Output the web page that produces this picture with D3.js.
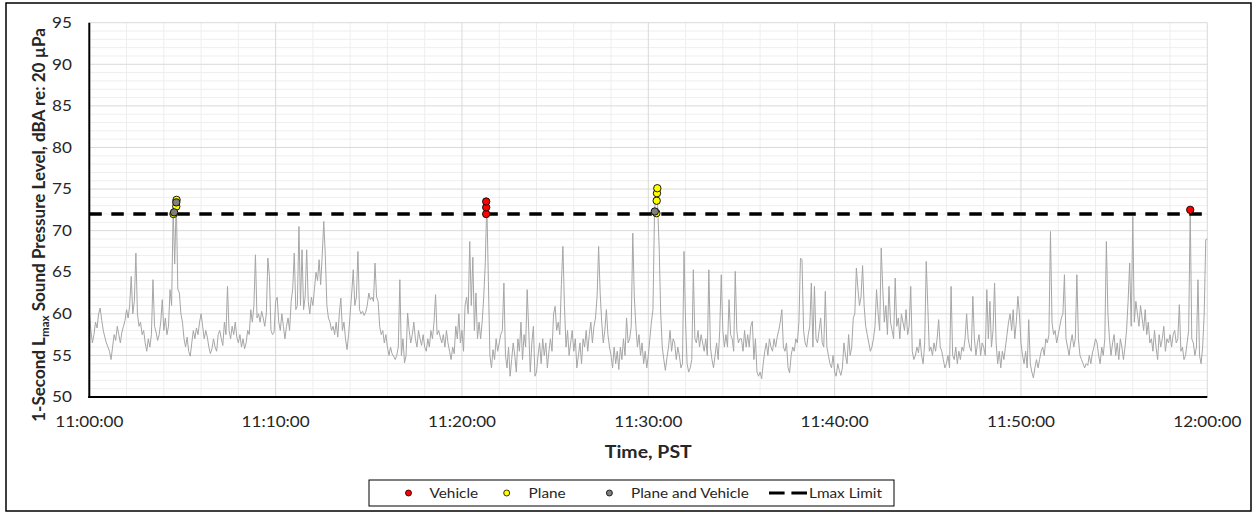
<!DOCTYPE html>
<html><head><meta charset="utf-8">
<script src="https://cdn.jsdelivr.net/npm/d3@7"></script>
<style>
body{margin:0;background:#fff}
svg{display:block}
text{font-family:Lato,"Carlito","Liberation Sans",sans-serif;fill:#262626}
</style>
</head><body>
<svg id="chart" width="1257" height="514"></svg>
<script>
const sampleStep = 5;
const lmax_1100 = [
60.3,58.0,56.5,57.5,59.0,58.3,60.0,60.7,59.2,58.0,57.2,56.5,
56.0,55.5,54.5,56.0,57.5,56.8,58.5,57.5,56.5,57.8,58.5,59.2,
60.5,59.5,61.0,64.5,60.0,61.5,67.3,60.0,58.5,59.0,57.5,58.0,
56.5,55.5,57.0,56.0,57.5,64.1,58.5,57.8,56.8,57.5,59.0,61.7,
58.0,59.5,57.5,58.5,62.9,61.0,72.5,66.0,73.7,63.0,62.5,60.0,
59.0,57.0,56.0,57.2,55.5,54.9,56.5,58.0,57.0,58.3,57.5,59.0,
60.0,58.5,57.0,58.0,57.2,56.0,55.2,55.8,57.0,56.0,55.5,57.5,
58.0,57.0,56.2,59.0,57.5,63.3,58.0,57.0,58.5,57.5,59.0,57.2,
56.5,57.5,56.0,57.0,55.8,56.5,58.0,57.5,60.5,59.0,61.0,67.1,
59.5,60.0,59.0,60.3,59.5,58.5,60.0,66.7,64.5,58.0,57.5,57.8];
const lmax_1110 = [
61.5,62.0,59.0,58.0,60.0,58.5,57.0,58.5,59.5,58.0,61.5,63.0,
67.3,60.5,61.0,70.5,61.0,67.7,60.5,62.0,67.7,61.5,60.0,62.0,
61.0,63.0,65.0,64.0,66.5,63.5,67.0,71.1,67.0,61.0,59.5,59.0,
58.0,58.5,57.5,59.0,57.2,60.0,61.9,58.0,59.0,57.0,55.7,57.5,
60.0,62.5,65.3,61.0,62.0,67.5,60.5,60.0,60.3,59.8,60.2,61.0,
62.5,61.7,62.0,61.5,66.1,62.0,61.5,58.5,57.5,58.0,56.5,57.5,
56.0,55.0,56.0,55.2,54.9,54.5,55.0,56.0,64.1,55.0,57.0,54.1,
55.0,60.1,58.0,56.5,57.5,59.0,57.0,56.0,58.0,57.0,56.2,57.5,
56.0,55.5,57.0,56.0,58.0,57.0,59.0,62.3,57.5,58.0,57.2,56.5,
57.5,56.0,58.0,56.5,55.5,54.5,56.0,55.2,58.5,57.0,60.0,56.5];
const lmax_1120 = [
58.0,55.5,61.0,62.0,60.0,68.7,61.0,66.8,58.0,62.5,57.0,59.0,
57.0,59.0,62.0,66.0,73.5,64.0,55.0,53.5,55.7,54.5,57.0,55.5,
56.5,57.5,58.0,63.7,55.0,53.5,56.0,52.5,54.5,56.5,55.0,53.0,
57.0,55.5,59.0,54.5,57.5,56.0,62.9,58.0,53.0,56.5,58.5,52.5,
53.0,55.0,56.5,54.0,57.0,55.0,56.5,53.5,55.5,57.0,55.5,60.0,
60.9,58.0,59.0,57.5,63.5,68.1,61.0,56.0,58.0,55.0,56.5,58.0,
55.5,57.0,53.5,55.0,56.5,54.0,57.0,56.0,58.0,55.5,57.5,59.0,
56.5,58.5,59.5,62.0,68.1,62.5,59.0,56.5,58.0,60.5,57.5,56.0,
55.0,53.5,56.0,54.0,55.5,53.3,56.0,54.5,57.0,55.0,59.5,56.5,
57.0,58.5,69.7,62.0,58.5,56.0,57.5,55.0,56.5,54.0,55.5,53.5];
const lmax_1130 = [
55.0,57.0,59.0,60.5,72.2,75.1,73.0,68.0,60.0,56.0,54.5,53.2,
54.7,56.0,58.0,55.5,57.0,56.5,54.5,56.0,55.0,53.5,54.0,67.5,
59.0,54.0,53.0,53.5,54.5,65.3,57.0,56.5,58.0,56.0,57.5,56.5,
55.5,57.0,55.0,65.3,56.0,54.5,53.5,55.0,56.5,54.5,58.0,64.7,
58.0,56.0,57.5,56.0,61.7,57.5,57.0,55.5,65.1,58.0,56.5,57.0,
57.0,55.5,58.0,56.0,57.5,56.0,58.5,59.1,54.5,57.0,53.0,52.5,
53.0,52.2,54.0,55.5,56.5,55.0,57.0,56.0,55.5,57.0,56.0,57.2,
58.0,59.0,60.5,56.0,55.5,56.5,53.5,52.9,55.0,56.0,55.5,57.0,
56.5,59.0,66.7,66.5,58.0,56.5,56.0,57.5,58.5,63.7,56.0,63.3,
57.0,56.5,58.0,59.5,56.5,56.0,62.7,56.0,55.0,54.0,53.5,55.0];
const lmax_1140 = [
53.0,52.5,54.0,53.2,52.6,53.5,56.5,55.0,54.0,57.5,55.0,56.0,
59.5,60.0,65.5,63.0,61.0,62.0,65.8,61.0,58.5,57.5,56.5,55.5,
56.0,57.0,58.5,62.9,60.0,58.0,67.9,63.0,59.0,61.0,57.5,63.3,
59.0,58.0,57.0,64.3,58.5,59.5,57.0,60.0,59.0,58.0,60.5,57.5,
58.5,63.3,55.5,54.5,55.0,56.0,55.3,57.0,55.0,54.0,56.5,66.3,
60.9,55.5,56.0,55.0,56.5,55.5,57.0,59.3,56.0,55.5,54.5,53.5,
54.0,55.0,53.5,63.3,55.0,54.5,56.0,54.0,55.5,54.5,56.0,55.5,
57.0,60.0,57.0,56.0,55.5,62.1,57.0,55.0,56.5,57.5,55.0,56.5,
56.0,55.0,62.9,57.0,61.5,56.0,58.0,63.7,56.5,54.0,55.5,53.5,
55.5,54.5,56.0,57.5,59.0,60.0,58.0,60.5,57.0,59.0,62.1,60.0];
const lmax_1150 = [
56.5,55.0,54.0,55.5,53.5,59.3,54.0,53.0,52.3,53.5,54.5,53.5,
54.5,55.5,56.0,55.0,57.0,56.5,57.5,69.9,59.0,57.5,58.0,56.5,
57.5,58.5,59.5,60.0,64.7,57.0,56.0,55.0,56.5,57.5,56.0,57.0,
64.7,57.0,55.0,54.5,54.0,53.5,54.0,53.8,55.0,54.0,55.3,56.0,
57.0,56.5,55.0,54.0,56.0,55.0,57.0,68.7,60.0,57.0,55.0,56.5,
57.5,55.0,56.5,54.5,57.0,56.0,54.5,56.0,58.0,61.5,66.1,58.5,
71.7,59.0,61.5,60.0,58.5,61.0,59.5,58.0,60.5,57.5,59.0,56.5,
57.0,55.5,58.0,56.0,54.5,57.5,56.0,57.0,58.5,55.5,57.0,56.5,
57.5,56.0,57.5,58.0,56.5,57.0,61.1,55.5,56.0,54.5,55.0,56.5,
58.0,72.5,57.0,56.5,55.0,56.0,64.1,55.0,54.0,56.0,60.0,68.9];
const lmax_1200 = [69.0];

// event markers: seconds after 11:00:00 and level
const vehicleTimes  = [1278, 1278, 1278, 3545];
const vehicleLevels = [72.0, 72.8, 73.5, 72.5];
const planeTimes    = [271, 280, 281, 1826, 1827, 1828, 1829];
const planeLevels   = [72.0, 72.9, 73.7, 72.1, 73.6, 74.5, 75.1];
const bothTimes     = [273, 280, 1821];
const bothLevels    = [72.2, 73.4, 72.3];
const lmaxLimit = 72;

const yTicks = [50,55,60,65,70,75,80,85,90,95];
const legendLabels = ["Vehicle","Plane","Plane and Vehicle","Lmax Limit"];
const yTitle = ["1-Second L","max"," Sound Pressure Level, dBA re: 20 \u00B5Pa"];
const xTitle = "Time, PST";

// ------------------------------------------------------------
const svg = d3.select("#chart");
const L = 89.3, R = 1207.3, T = 22.7, B = 397;
const base = new Date(2000,0,1,11,0,0);
const series = [].concat(lmax_1100,lmax_1110,lmax_1120,lmax_1130,lmax_1140,lmax_1150,lmax_1200)
  .map((v,i)=>({t:new Date(base.getTime()+i*sampleStep*1000), v}));
const tAt = s => new Date(base.getTime()+s*1000);

const x = d3.scaleTime().domain([base, tAt(3600)]).range([L,R]);
const y = d3.scaleLinear().domain([50,95]).range([B,T]);
const stretchK = 1.18;
function stretch(sel){
  sel.each(function(){
    const l = this.getComputedTextLength();
    this.setAttribute("textLength", (l*stretchK).toFixed(2));
    this.setAttribute("lengthAdjust","spacingAndGlyphs");
  });
}

// outer border
svg.append("rect").attr("x",6).attr("y",3).attr("width",1245).attr("height",508)
  .attr("fill","#fff").attr("stroke","#000").attr("stroke-width",1.5);

const g = svg.append("g");
// minor grid
const minorY = d3.range(51,95).filter(v=>v%5!==0);
g.selectAll(".hm").data(minorY).join("line")
  .attr("x1",L).attr("x2",R).attr("y1",d=>y(d)).attr("y2",d=>y(d))
  .attr("stroke","#eeeeee").attr("stroke-width",1);
const minorX = x.ticks(d3.timeMinute.every(2)).filter(d=>d.getMinutes()%10!==0);
g.selectAll(".vm").data(minorX).join("line")
  .attr("x1",d=>x(d)).attr("x2",d=>x(d)).attr("y1",T).attr("y2",B)
  .attr("stroke","#eeeeee").attr("stroke-width",1);
// major grid
g.selectAll(".hM").data(yTicks.filter(v=>v>50)).join("line")
  .attr("x1",L).attr("x2",R).attr("y1",d=>y(d)).attr("y2",d=>y(d))
  .attr("stroke","#d9d9d9").attr("stroke-width",1);
const majorX = x.ticks(d3.timeMinute.every(10));
g.selectAll(".vM").data(majorX.slice(1)).join("line")
  .attr("x1",d=>x(d)).attr("x2",d=>x(d)).attr("y1",T).attr("y2",B)
  .attr("stroke","#d9d9d9").attr("stroke-width",1);

// data line
g.append("path").datum(series)
  .attr("d", d3.line().x(d=>x(d.t)).y(d=>y(d.v)))
  .attr("fill","none").attr("stroke","#a6a6a6").attr("stroke-width",1);

// axes lines
g.append("line").attr("x1",L).attr("x2",L).attr("y1",T).attr("y2",B+1)
  .attr("stroke","#000").attr("stroke-width",2);
g.append("line").attr("x1",L-1).attr("x2",R).attr("y1",B).attr("y2",B)
  .attr("stroke","#000").attr("stroke-width",2);

// limit line
g.append("line").attr("x1",x(base)).attr("x2",x(tAt(3600)))
  .attr("y1",y(lmaxLimit)).attr("y2",y(lmaxLimit))
  .attr("stroke","#000").attr("stroke-width",3.5).attr("stroke-dasharray","12.5,9.5");

// markers
function markers(times, levels, fill){
  g.append("g").selectAll("circle").data(times.map((t,i)=>({t,v:levels[i]}))).join("circle")
    .attr("cx",d=>x(tAt(d.t))).attr("cy",d=>y(d.v)).attr("r",3.7)
    .attr("fill",fill).attr("stroke","#000").attr("stroke-width",0.9);
}
markers(vehicleTimes, vehicleLevels, "#ff0000");
markers(planeTimes, planeLevels, "#ffff00");
markers(bothTimes, bothLevels, "#7f7f7f");

// y tick labels
const yl = svg.append("g").selectAll("text").data(yTicks).join("text")
  .attr("x",72).attr("y",d=>y(d)).attr("dy","0.36em").attr("text-anchor","end")
  .attr("font-size",14.5).text(d=>d);
stretch(yl);
// x tick labels
const fmt = d3.timeFormat("%H:%M:%S");
const xl = svg.append("g").selectAll("text").data(majorX).join("text")
  .attr("x",d=>x(d)).attr("y",426.5).attr("text-anchor","middle")
  .attr("font-size",14.5).text(d=>fmt(d));
stretch(xl);

// x title
const xt = svg.append("text").attr("x",(L+R)/2).attr("y",458).attr("text-anchor","middle")
  .attr("font-size",16.5).attr("font-weight","bold").attr("fill","#000").text(xTitle);
stretch(xt);

// y title
const yt = svg.append("text").attr("transform","translate(45,225) rotate(-90)")
  .attr("text-anchor","middle").attr("font-size",14).attr("font-weight","bold").attr("fill","#000");
const ys0 = yt.append("tspan").text(yTitle[0]);
const ys1 = yt.append("tspan").attr("font-size",9.5).attr("dy",3).text(yTitle[1]);
const ys2 = yt.append("tspan").attr("dy",-3).text(yTitle[2]);
{
  const len = yt.node().getComputedTextLength();
  const k = 394/len;
  yt.attr("font-size",(14*k).toFixed(2));
  ys1.attr("font-size",(9.5*k).toFixed(2)).attr("dy",(3*k).toFixed(2));
  ys2.attr("dy",(-3*k).toFixed(2));
}

// legend
const lg = svg.append("g");
lg.append("rect").attr("x",369).attr("y",480).attr("width",525).attr("height",26)
  .attr("fill","#fff").attr("stroke","#000").attr("stroke-width",1);
const ly = 493;
const legendFills = ["#ff0000","#ffff00","#7f7f7f"];
const symX = [408.5, 506.7, 609.4];
const txtX = [429.5, 528.6, 631, 809];
legendFills.forEach((f,i)=>{
  lg.append("circle").attr("cx",symX[i]).attr("cy",ly).attr("r",3)
    .attr("fill",f).attr("stroke","#000").attr("stroke-width",0.8);
});
lg.append("line").attr("x1",769).attr("x2",807).attr("y1",ly).attr("y2",ly)
  .attr("stroke","#000").attr("stroke-width",3).attr("stroke-dasharray","15.6,6.8");
const lt = lg.selectAll("text.lt").data(legendLabels).join("text")
  .attr("x",(d,i)=>txtX[i]).attr("y",ly).attr("dy","0.36em")
  .attr("font-size",13).attr("fill","#000").text(d=>d);
stretch(lt);
</script>
</body></html>
